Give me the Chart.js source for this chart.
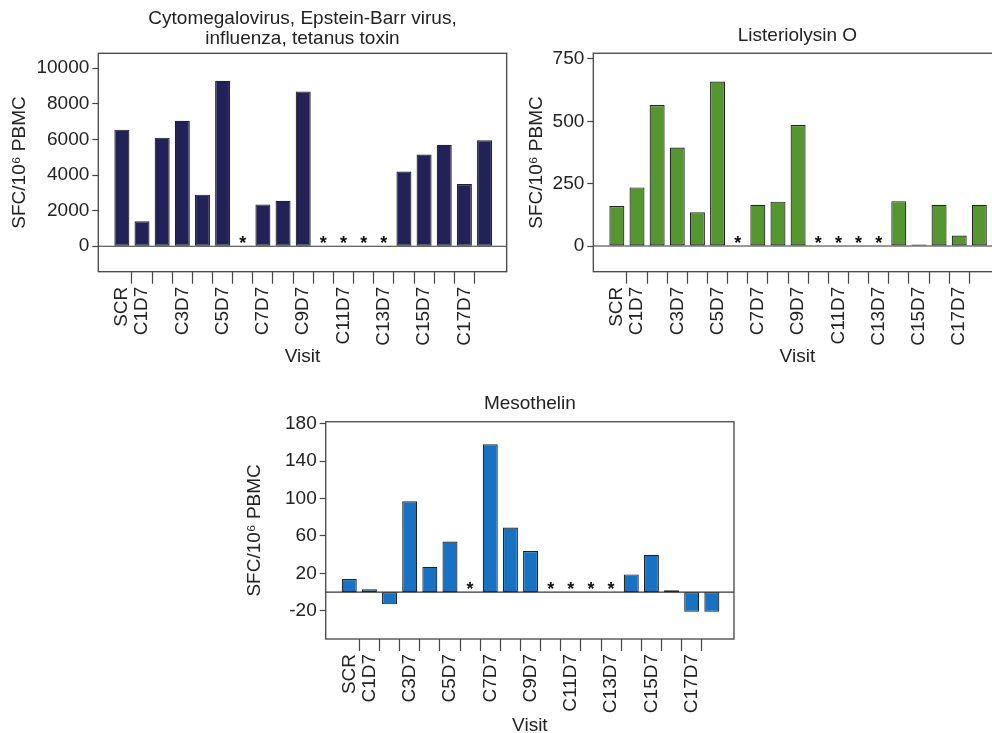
<!DOCTYPE html>
<html>
<head>
<meta charset="utf-8">
<script src="https://cdn.jsdelivr.net/npm/chart.js@4.4.1/dist/chart.umd.min.js"></script>
<style>
html, body { margin: 0; padding: 0; background: #fff; overflow: hidden; width: 992px; height: 733px; }
canvas { position: absolute; }
</style>
</head>
<body>
<canvas id="c1" width="520" height="372" style="left:0px;top:0px;width:520px;height:372px"></canvas>
<canvas id="c2" width="490" height="372" style="left:520px;top:0px;width:490px;height:372px"></canvas>
<canvas id="c3" width="520" height="360" style="left:230px;top:380px;width:520px;height:360px"></canvas>
<script>
// ---------- data ----------
const visits = ['SCR','C1D7','C2D7','C3D7','C4D7','C5D7','C6D7','C7D7','C8D7','C9D7',
                'C10D7','C11D7','C12D7','C13D7','C14D7','C15D7','C16D7','C17D7','C18D7'];
const shownVisitLabels = ['SCR','C1D7','C3D7','C5D7','C7D7','C9D7','C11D7','C13D7','C15D7','C17D7'];

const viralTitle = ['Cytomegalovirus, Epstein-Barr virus,', 'influenza, tetanus toxin'];
const viralValues = [6550, 1400, 6100, 7050, 2900, 9300, null, 2350, 2550, 8700,
                     null, null, null, null, 4200, 5150, 5700, 3500, 5950];
const viralTicks = [0, 2000, 4000, 6000, 8000, 10000];

const lloTitle = 'Listeriolysin O';
const lloValues = [160, 235, 565, 395, 135, 660, null, 165, 178, 485,
                   null, null, null, null, 180, 6, 165, 42, 165];
const lloTicks = [0, 250, 500, 750];

const mesoTitle = 'Mesothelin';
const mesoValues = [14, 3, -13, 97, 27, 54, null, 158, 69, 44,
                    null, null, null, null, 19, 40, 2, -21, -21];
const mesoTicks = [-20, 20, 60, 100, 140, 180];

const yTitle = 'SFC/10\u2076 PBMC';
const xTitle = 'Visit';

// ---------- styling ----------
const FONT = "'Liberation Sans', Arial, Helvetica, sans-serif";
const TXT = '#222';
const font19 = { family: FONT, size: 19 };

const decor = {
  id: 'decor',
  beforeDatasetsDraw(chart) {
    const { ctx, chartArea: a, scales } = chart;
    const y0 = scales.y.getPixelForValue(0);
    ctx.save();
    ctx.strokeStyle = '#333';
    ctx.lineWidth = 1.2;
    ctx.beginPath();
    ctx.moveTo(a.left, y0);
    ctx.lineTo(a.right, y0);
    ctx.stroke();
    ctx.restore();
  },
  afterDraw(chart) {
    const { ctx, chartArea: a, scales } = chart;
    ctx.save();
    ctx.strokeStyle = '#444';
    ctx.lineWidth = 1.3;
    ctx.strokeRect(a.left, a.top, a.right - a.left, a.bottom - a.top);
    // asterisks for missing visits
    const y0 = scales.y.getPixelForValue(0);
    ctx.fillStyle = '#111';
    ctx.font = 'bold 18px ' + FONT;
    ctx.textAlign = 'center';
    ctx.textBaseline = 'alphabetic';
    chart.data.datasets[0].data.forEach((d) => {
      if (d.y === null) {
        ctx.fillText('*', scales.x.getPixelForValue(d.x), y0 + 3);
      }
    });
    ctx.restore();
  }
};

function makeChart(id, cfg) {
  const data = cfg.values.map((v, i) => ({ x: i, y: v }));
  return new Chart(document.getElementById(id), {
    type: 'bar',
    data: {
      datasets: [{
        data,
        backgroundColor: cfg.color,
        borderColor: '#222',
        borderWidth: 1.2,
        borderSkipped: false,
        categoryPercentage: 1,
        barPercentage: 1.49
      }]
    },
    plugins: [decor],
    options: {
      responsive: false,
      animation: false,
      layout: { padding: { left: 0, right: cfg.padRight, top: 0, bottom: cfg.padBottom } },
      plugins: {
        legend: { display: false },
        tooltip: { enabled: false },
        title: {
          display: true,
          text: cfg.title,
          fullSize: false,
          color: TXT,
          font: { family: FONT, size: 19, weight: 'normal', lineHeight: 1.05 },
          padding: { top: cfg.titleTop, bottom: cfg.titleBottom }
        }
      },
      scales: {
        x: {
          type: 'linear',
          min: -1.17,
          max: 19.1,
          offset: false,
          afterBuildTicks: (s) => {
            const t = [];
            visits.forEach((v, i) => {
              t.push({ value: i });
              if (i < visits.length - 1) t.push({ value: i + 0.5 });
            });
            s.ticks = t;
          },
          ticks: {
            autoSkip: false,
            minRotation: 90,
            maxRotation: 90,
            padding: 3,
            color: TXT,
            font: font19,
            callback: (val) => (Number.isInteger(val) && shownVisitLabels.includes(visits[val])) ? visits[val] : ''
          },
          grid: {
            offset: false,
            drawOnChartArea: false,
            tickLength: 12,
            tickWidth: 1.2,
            color: 'rgba(0,0,0,0)',
            tickColor: (ctx) => (ctx.tick && !Number.isInteger(ctx.tick.value)) ? '#444' : 'rgba(0,0,0,0)'
          },
          border: { display: false },
          title: { display: true, text: xTitle, color: TXT, font: font19, padding: { top: 0, bottom: 0 } },
          afterFit: (s) => { s.height = cfg.xHeight; }
        },
        y: {
          min: cfg.yMin,
          max: cfg.yMax,
          afterBuildTicks: (s) => { s.ticks = cfg.ticks.map((v) => ({ value: v })); },
          ticks: { autoSkip: false, padding: 3, color: TXT, font: font19, callback: (v) => String(v) },
          grid: { drawOnChartArea: false, tickLength: 6, tickWidth: 1.2, tickColor: '#444', color: 'rgba(0,0,0,0)' },
          border: { display: false },
          title: { display: true, text: yTitle, color: TXT, font: font19, padding: { top: cfg.yTitlePad, bottom: 0 } },
          afterFit: (s) => { s.width = cfg.yWidth; }
        }
      }
    }
  });
}

makeChart('c1', {
  values: viralValues, ticks: viralTicks, title: viralTitle, color: '#222258',
  yMin: -1430, yMax: 10840,
  padRight: 13.3, padBottom: 4, titleTop: 8.5, titleBottom: 4.9,
  xHeight: 96.3, yWidth: 98.3, yTitlePad: 8.6
});

makeChart('c2', {
  values: lloValues, ticks: lloTicks, title: lloTitle, color: '#569630',
  yMin: -103, yMax: 773,
  padRight: 8.5, padBottom: 4, titleTop: 26, titleBottom: 7.3,
  xHeight: 96.3, yWidth: 73.3, yTitlePad: 5.3
});

makeChart('c3', {
  values: mesoValues, ticks: mesoTicks, title: mesoTitle, color: '#1872c4',
  yMin: -50, yMax: 182,
  padRight: 16, padBottom: 2.4, titleTop: 14, titleBottom: 7.8,
  xHeight: 98.6, yWidth: 95.7, yTitlePad: 13.6
});
</script>
</body>
</html>
